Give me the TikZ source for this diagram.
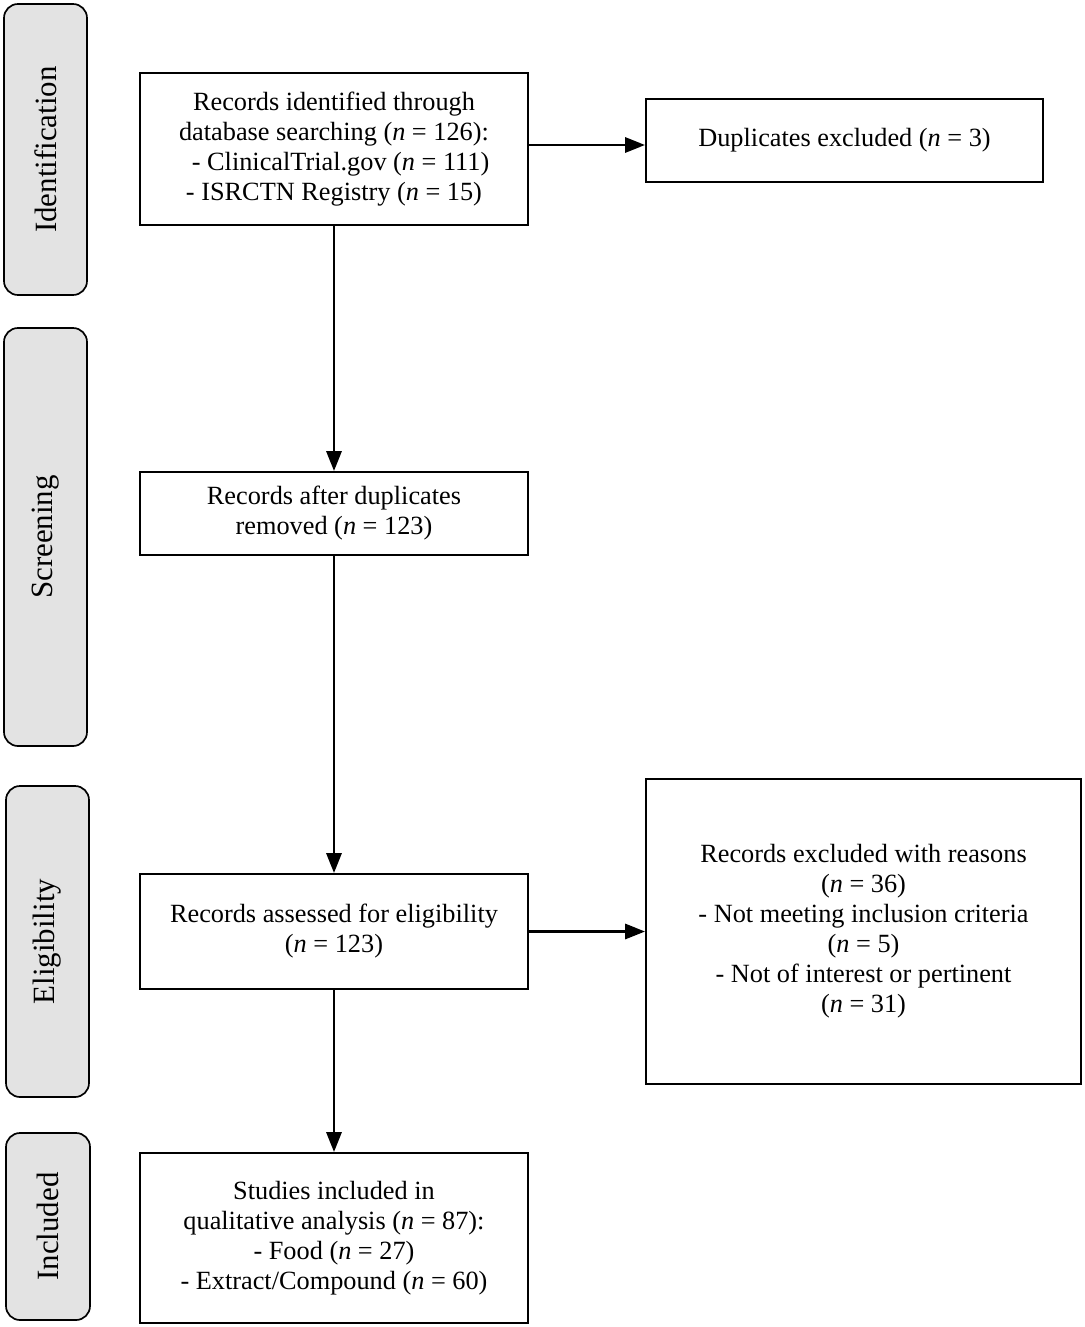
\documentclass[tikz,border=0pt]{standalone}
\usepackage{fontspec}
\setmainfont{Liberation Serif}
\usetikzlibrary{arrows.meta}
\begin{document}
\begin{tikzpicture}[x=0.025cm,y=-0.025cm,
  every node/.style={font=\fontsize{18.7}{21.3}\selectfont, align=center, inner sep=0pt},
  box/.style={draw, line width=1.4pt},
  phase/.style={draw, line width=1.2pt, fill=black!11, rounded corners=0.35cm, rotate=90, font=\fontsize{22}{26}\selectfont},
  arr/.style={line width=1.9pt, -{Triangle[length=0.5cm,width=0.38cm]}}]
\useasboundingbox (0,0) rectangle (1084,1327);
\fill[white] (0,0) rectangle (1084,1327);
% phase labels
\node[phase, minimum width={291*0.025cm}, minimum height={83*0.025cm}] (p1) at (45.5,149.5) {Identification};
\node[phase, minimum width={418*0.025cm}, minimum height={83*0.025cm}] (p2) at (45.5,537) {Screening};
\node[phase, minimum width={311*0.025cm}, minimum height={83*0.025cm}] (p3) at (47.5,941.5) {Eligibility};
\node[phase, minimum width={187*0.025cm}, minimum height={84*0.025cm}] (p4) at (48,1226.5) {Included};
% boxes
\node[box, minimum width={388*0.025cm}, minimum height={152*0.025cm}] (a) at (334,149) {Records identified through\\database searching (\textit{n} = 126):\\\hspace{0.5em}- ClinicalTrial.gov (\textit{n} = 111)\\- ISRCTN Registry (\textit{n} = 15)};
\node[box, minimum width={397*0.025cm}, minimum height={83*0.025cm}] (dup) at (844.5,140.5) {Duplicates excluded (\textit{n} = 3)};
\node[box, minimum width={388*0.025cm}, minimum height={83*0.025cm}] (b) at (334,513.5) {Records after duplicates\\removed (\textit{n} = 123)};
\node[box, minimum width={388*0.025cm}, minimum height={115*0.025cm}] (c) at (334,931.5) {Records assessed for eligibility\\(\textit{n} = 123)};
\node[box, minimum width={435*0.025cm}, minimum height={305*0.025cm}] (ex) at (863.5,931.5) {Records excluded with reasons\\(\textit{n} = 36)\\- Not meeting inclusion criteria\\(\textit{n} = 5)\\- Not of interest or pertinent\\(\textit{n} = 31)};
\node[box, minimum width={388*0.025cm}, minimum height={170*0.025cm}] (d) at (334,1238) {Studies included in\\qualitative analysis (\textit{n} = 87):\\- Food (\textit{n} = 27)\\- Extract/Compound (\textit{n} = 60)};
% arrows
\coordinate (dupin) at ([yshift={-4.5*0.025cm}]dup.west);
\draw[arr] (a.east |- dupin) -- (dupin);
\draw[arr] (a.south) -- (b.north);
\draw[arr] (b.south) -- (c.north);
\draw[arr] (c.east) -- (ex.west);
\draw[arr] (c.south) -- (d.north);
\end{tikzpicture}
\end{document}
